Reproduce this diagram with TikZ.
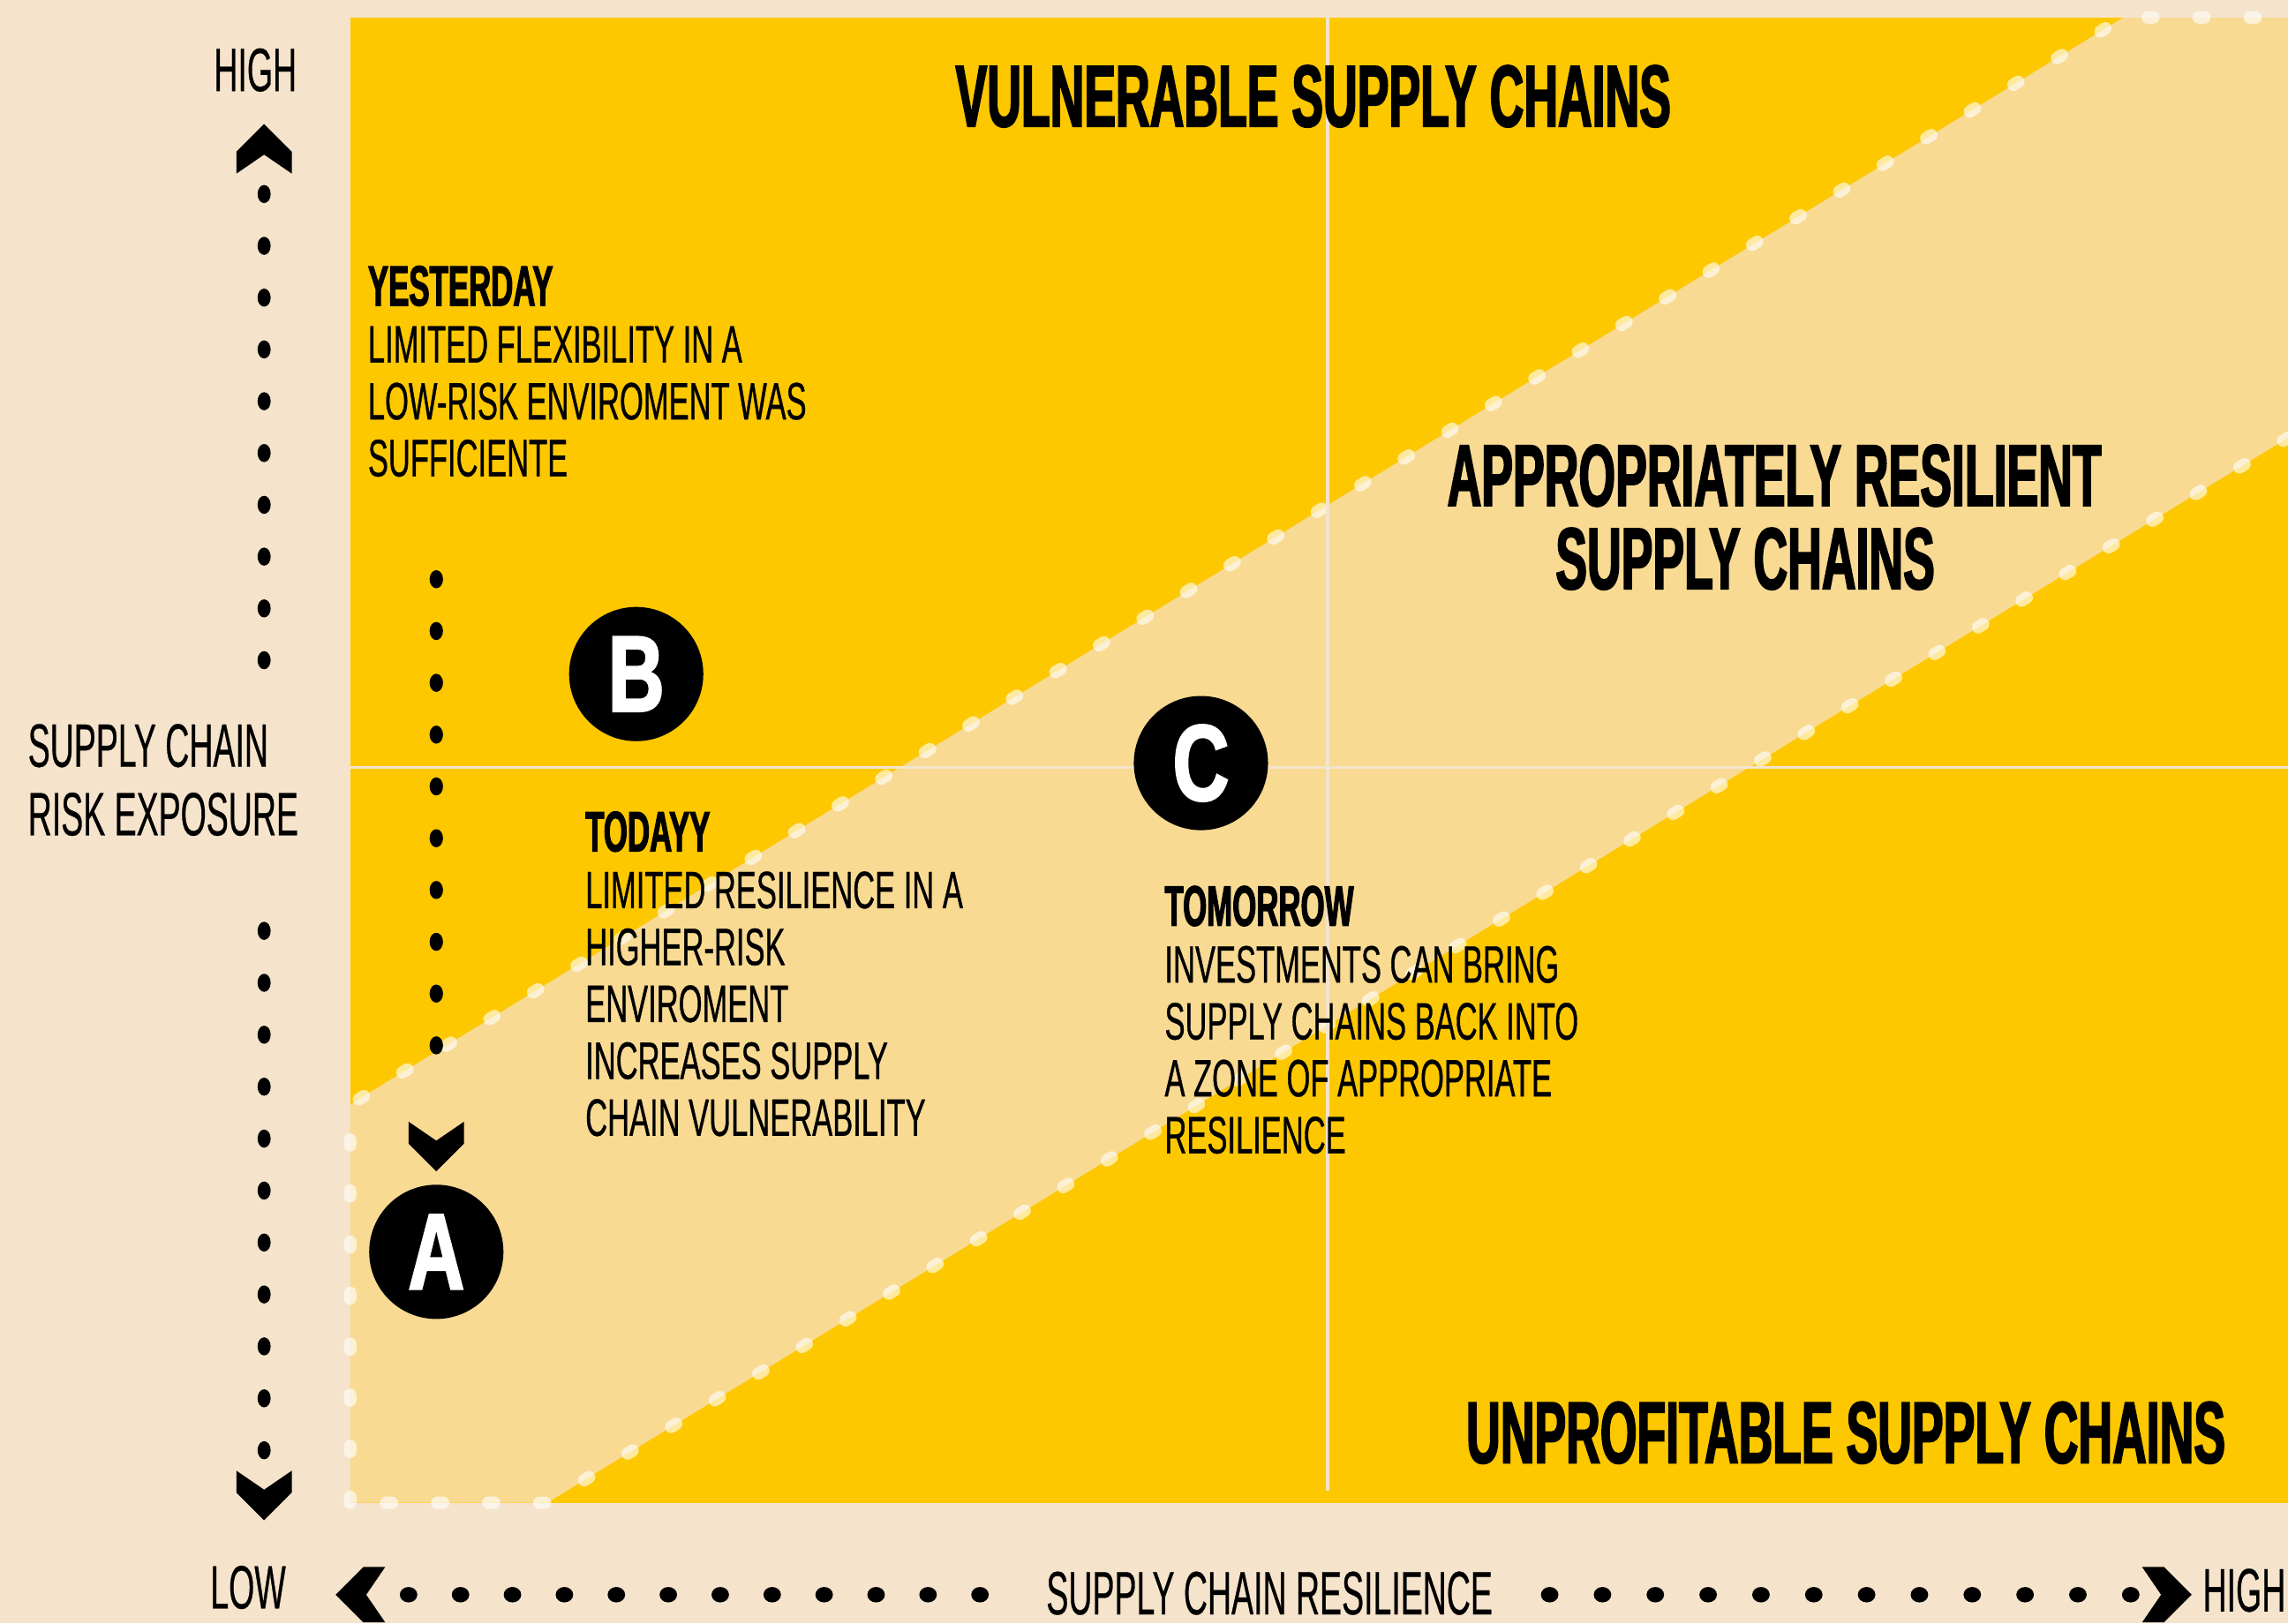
\documentclass[tikz,border=0pt]{standalone}
\usepackage{fontspec}
\setmainfont{Liberation Sans}
\newfontfamily\condreg{Liberation Sans}[FakeStretch=0.58,FakeBold=0.6]
\newfontfamily\axisfont{Liberation Sans}[FakeStretch=0.54,FakeBold=0.4]
\newfontfamily\condbold{Liberation Sans Bold}[FakeStretch=0.54,FakeBold=1.8]
\newfontfamily\letterfont{Liberation Sans Bold}[FakeStretch=0.72,FakeBold=2]
\definecolor{bg}{HTML}{F5E4CB}
\definecolor{ylw}{HTML}{FDC800}
\definecolor{pale}{HTML}{F8DA93}
\definecolor{divl}{HTML}{F3E4CC}
\usetikzlibrary{calc}
\tikzset{
  chevron/.pic={\fill[black] (0,0) -- (-19,-19) -- (-19,-34) -- (0,-21) -- (19,-34) -- (19,-19) -- cycle;},
}
\begin{document}
\begin{tikzpicture}[x=1pt,y=-1pt,
  bandedge/.style={draw=white,draw opacity=0.62,line width=8.5pt,line cap=round,dash pattern=on 4pt off 31pt},
  divider/.style={draw=divl,line width=2.2pt},
  title/.style={font=\condbold\fontsize{60}{57}\selectfont,inner sep=0pt,align=center},
  body/.style={font=\condreg\fontsize{36}{39}\selectfont,inner sep=0pt,align=left,anchor=north west},
  axislbl/.style={font=\axisfont\fontsize{42}{47}\selectfont,inner sep=0pt},
  marker/.style={circle,fill=black,minimum size=92pt,inner sep=0pt,text=white,font=\letterfont\fontsize{74}{74}\selectfont},
  vdot/.style={fill=black}
]
\fill[bg] (0,0) rectangle (1568,1112.5);
\useasboundingbox (0,0) rectangle (1568,1112.5);
% plot area
\fill[ylw] (240,12) rectangle (1568,1030);
% appropriate band
\fill[pale] (240,757) -- (1455,12) -- (1568,12) -- (1568,300) -- (375,1030) -- (240,1030) -- cycle;
\draw[bandedge] (240,1030) -- (240,757) -- (1455,12) -- (1568,12);
\draw[bandedge] (1568,300) -- (375,1030) -- (240,1030);
% dividers
\draw[divider] (910,12) -- (910,1022);
\draw[divider] (240,526) -- (1568,526);
% titles
\node[title] (vul) at (900,66) {VULNERABLE SUPPLY CHAINS};
\node[title] (app1) at (1216,326) {APPROPRIATELY RESILIENT};
\node[title] (app2) at (1196,383) {SUPPLY CHAINS};
\node[title] (unp) at (1265,982) {UNPROFITABLE SUPPLY CHAINS};
% texts
\node[body] (yest) at (252,182) {{\condbold\fontsize{39}{39}\selectfont YESTERDAY}\\LIMITED FLEXIBILITY IN A\\LOW-RISK ENVIROMENT WAS\\SUFFICIENTE};
\node[body] (tod) at (401,556) {{\condbold\fontsize{39}{39}\selectfont TODAYY}\\LIMITED RESILIENCE IN A\\HIGHER-RISK\\ENVIROMENT\\INCREASES SUPPLY\\CHAIN VULNERABILITY};
\node[body] (tom) at (798,607) {{\condbold\fontsize{39}{39}\selectfont TOMORROW}\\INVESTMENTS CAN BRING\\SUPPLY CHAINS BACK INTO\\A ZONE OF APPROPRIATE\\RESILIENCE};
% markers
\node[marker] (B) at (436,462) {B};
\node[marker] (C) at (823,523) {C};
\node[marker] (A) at (299,858) {A};
% dotted arrow to A
\foreach \i in {0,...,9} \fill[vdot] (299,397+35.5*\i) ellipse [x radius=4.6, y radius=6.2];
\pic at ($(A.north)+(0,-9)$) {chevron};
% vertical axis
\node[axislbl] (hy) at (175,48) {HIGH};
\node[axislbl,align=left,anchor=north west] (rx) at (19,496) {SUPPLY CHAIN\\RISK EXPOSURE};
\node[axislbl] (ly) at (170,1088) {LOW};
\pic[rotate=180] at (181,85) {chevron};
\foreach \i in {0,...,9} \fill[vdot] (181,133+35.5*\i) ellipse [x radius=4.5, y radius=6.2];
\foreach \i in {0,...,10} \fill[vdot] (181,638+35.6*\i) ellipse [x radius=4.5, y radius=6.2];
\pic at (181,1042) {chevron};
% horizontal axis
\node[axislbl] (resx) at (870,1092) {SUPPLY CHAIN RESILIENCE};
\node[axislbl] (hx) at (1538,1090) {HIGH};
\pic[rotate=-90] at (230,1093) {chevron};
\foreach \i in {0,...,11} \fill[vdot] (280+35.6*\i,1093) ellipse [x radius=6, y radius=5.3];
\foreach \i in {0,...,11} \fill[vdot] (1062+36.2*\i,1093) ellipse [x radius=6, y radius=5.3];
\pic[rotate=90] at (1502,1093) {chevron};
\end{tikzpicture}
\end{document}
